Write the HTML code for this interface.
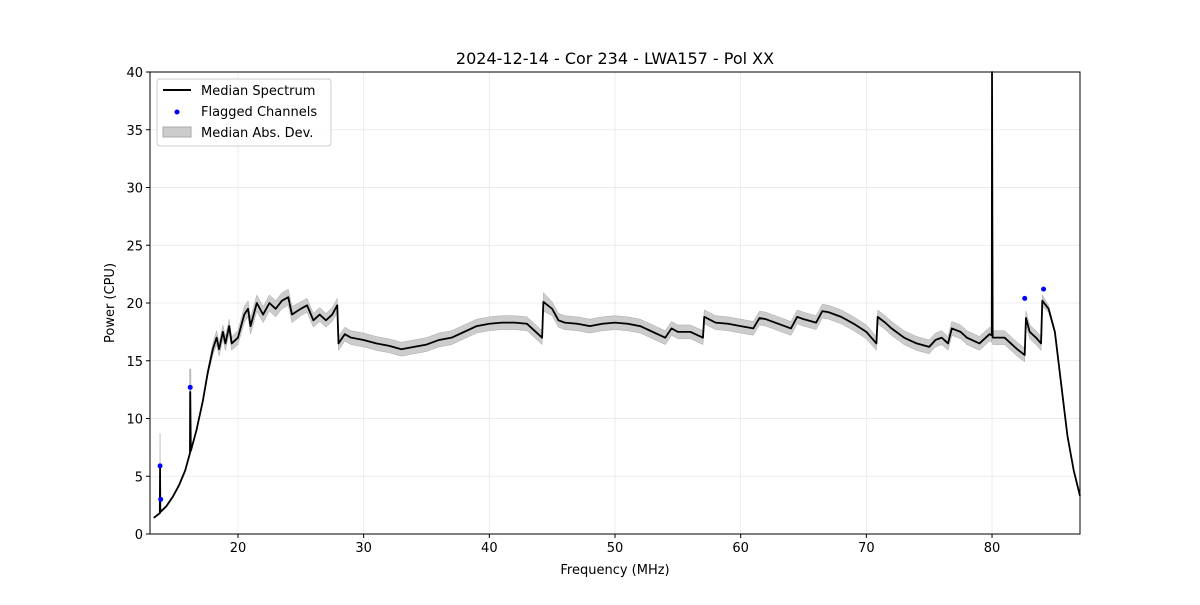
<!DOCTYPE html>
<html><head><meta charset="utf-8"><style>
body{margin:0;background:#fff;font-family:"Liberation Sans","DejaVu Sans",sans-serif}
</style></head><body>
<svg id="chart" width="1200" height="600" xmlns="http://www.w3.org/2000/svg" font-family="DejaVu Sans, Liberation Sans, sans-serif">
<rect width="1200" height="600" fill="#fff"/>
<text x="615" y="64" text-anchor="middle" font-size="16">2024-12-14 - Cor 234 - LWA157 - Pol XX</text>
<g id="grid"></g>
<g id="marks"></g>
<rect x="150" y="72" width="930" height="462" fill="none" stroke="#000" stroke-width="1"/>
<g id="ticks" font-size="13"></g>
<text x="615" y="574" text-anchor="middle" font-size="13">Frequency (MHz)</text>
<text transform="translate(114,303) rotate(-90)" text-anchor="middle" font-size="13">Power (CPU)</text>
<g>
<rect x="157" y="79" width="174" height="67" rx="3" fill="#fff" fill-opacity="0.85" stroke="#ccc"/>
<line x1="163" y1="90" x2="191" y2="90" stroke="#000" stroke-width="2"/>
<text x="201" y="95" font-size="13">Median Spectrum</text>
<circle cx="177" cy="112" r="2.5" fill="#00f"/>
<text x="201" y="116" font-size="13">Flagged Channels</text>
<rect x="163" y="127" width="28" height="10" fill="#ccc" stroke="#aaa"/>
<text x="201" y="137" font-size="13">Median Abs. Dev.</text>
</g>
</svg>
<script>
const freqs=[13.3,13.78,13.8,13.82,14.3,14.8,15.3,15.8,16.18,16.2,16.25,16.7,17.2,17.6,18,18.3,18.5,18.8,19,19.3,19.5,20,20.5,20.8,21,21.5,22,22.5,23,23.5,24,24.3,25,25.5,26,26.5,27,27.5,27.9,28,28.5,29,30,31,32,33,34,35,36,37,38,39,40,41,42,43,44.2,44.3,45,45.5,46,47,48,49,50,51,52,53,54,54.5,55,56,57,57.1,58,59,60,61,61.5,62,63,64,64.5,65,66,66.5,67,68,69,70,70.8,70.9,71.5,72,73,74,75,75.5,76,76.5,76.8,77.5,78,79,79.8,79.98,80,80.05,81,81.5,82,82.6,82.7,83,83.5,83.9,84,84.5,85,85.5,86,86.5,87];
const medians=[1.4,1.8,5.7,1.9,2.4,3.2,4.2,5.5,7.0,12.3,7.2,9,11.5,14,16,17,16,17.5,16.5,18,16.5,17,19,19.5,18,20,19,20,19.5,20.2,20.5,19,19.5,19.8,18.5,19,18.5,19,19.8,16.5,17.3,17,16.8,16.5,16.3,16,16.2,16.4,16.8,17,17.5,18,18.2,18.3,18.3,18.2,17,20.1,19.5,18.5,18.3,18.2,18,18.2,18.3,18.2,18,17.5,17,17.8,17.5,17.5,17,18.8,18.3,18.2,18,17.8,18.7,18.6,18.2,17.8,18.8,18.6,18.3,19.3,19.2,18.8,18.2,17.5,16.5,18.8,18.3,17.8,17,16.5,16.2,16.8,17,16.5,17.8,17.5,17,16.5,17.3,17.2,40,17,17,16.5,16,15.5,18.7,17.5,17,16.5,20.2,19.5,17.5,13,8.5,5.5,3.3];
const madVals=[0.05,0.1,3,0.1,0.1,0.1,0.1,0.1,0.1,2,0.1,0.1,0.2,0.3,0.5,0.6,0.6,0.6,0.6,0.6,0.6,0.6,0.7,0.7,0.7,0.7,0.7,0.7,0.7,0.7,0.7,0.7,0.6,0.6,0.6,0.6,0.6,0.6,0.6,0.6,0.6,0.6,0.6,0.6,0.6,0.6,0.6,0.6,0.6,0.6,0.6,0.6,0.6,0.6,0.6,0.6,0.6,0.8,0.6,0.6,0.6,0.6,0.6,0.6,0.6,0.6,0.6,0.6,0.6,0.6,0.6,0.6,0.6,0.6,0.6,0.6,0.6,0.6,0.6,0.6,0.6,0.6,0.6,0.6,0.6,0.6,0.6,0.6,0.6,0.6,0.6,0.6,0.6,0.6,0.6,0.6,0.6,0.6,0.6,0.6,0.6,0.6,0.6,0.6,0.6,0.6,0.6,0.6,0.6,0.6,0.6,0.6,0.6,0.6,0.6,0.6,0.5,0.3,0.2,0.1,0.1,0.1,0.1];
const flagFreqs=[13.8,13.85,16.2,82.6,84.1];
const flagVals=[5.9,3.0,12.7,20.4,21.2];
const xTicks=[20,30,40,50,60,70,80];
const yTicks=[0,5,10,15,20,25,30,35,40];
const X0=13,X1=87,Y0=0,Y1=40,L=150,R=1080,T=72,B=534;
const sx=v=>L+(v-X0)/(X1-X0)*(R-L);
const sy=v=>B-(v-Y0)/(Y1-Y0)*(B-T);
const NS='http://www.w3.org/2000/svg';
function mk(tag,attrs,parent){const e=document.createElementNS(NS,tag);for(const k in attrs)e.setAttribute(k,attrs[k]);parent.appendChild(e);return e;}
const grid=document.getElementById('grid'),ticks=document.getElementById('ticks'),marks=document.getElementById('marks');
xTicks.forEach(t=>{const x=sx(t);
mk('line',{x1:x,x2:x,y1:T,y2:B,stroke:'#e6e6e6','stroke-width':0.7},grid);
mk('line',{x1:x,x2:x,y1:B,y2:B+4,stroke:'#000'},ticks);
const tx=mk('text',{x:x,y:B+18,'text-anchor':'middle'},ticks);tx.textContent=t;

});
yTicks.forEach(t=>{const y=sy(t);
mk('line',{x1:L,x2:R,y1:y,y2:y,stroke:'#e6e6e6','stroke-width':0.7},grid);
mk('line',{x1:L-4,x2:L,y1:y,y2:y,stroke:'#000'},ticks);
const tx=mk('text',{x:L-7,y:y+5,'text-anchor':'end'},ticks);tx.textContent=t;

});
let up=[],dn=[];
freqs.forEach((f,i)=>{const m=madVals[i]||0;up.push(sx(f)+','+sy(Math.min(40,medians[i]+m)));dn.unshift(sx(f)+','+sy(Math.max(0,medians[i]-m)));});
const band=mk('polygon',{points:up.concat(dn).join(' '),fill:'#ccc',stroke:'#aaa','stroke-width':0.5},marks);


const sp2=mk('line',{x1:sx(16.2),x2:sx(16.2),y1:sy(7),y2:sy(14.3),stroke:'#bbb','stroke-width':2},marks);


const line=mk('polyline',{points:freqs.map((f,i)=>sx(f)+','+sy(Math.min(40,medians[i]))).join(' '),fill:'none',stroke:'#000','stroke-width':1.8,'stroke-linejoin':'round'},marks);


flagFreqs.forEach((f,i)=>{const c=mk('circle',{cx:sx(f),cy:sy(flagVals[i]),r:2.5,fill:'#00f'},marks);

});
</script>
</body></html>
